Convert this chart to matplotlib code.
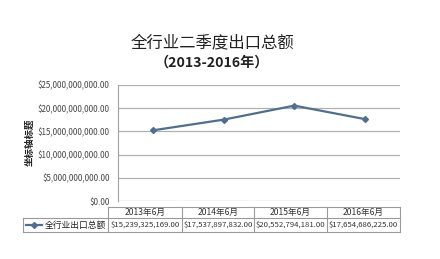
import matplotlib
matplotlib.use("Agg")
import matplotlib.pyplot as plt
from matplotlib.lines import Line2D
from matplotlib.ticker import FuncFormatter

plt.rcParams['font.family'] = ['Noto Sans CJK SC', 'DejaVu Sans']

categories = ["2013年6月", "2014年6月", "2015年6月", "2016年6月"]
values = [15239325169.00, 17537897832.00, 20552794181.00, 17654686225.00]
series_name = "全行业出口总额"
title = "全行业二季度出口总额"
subtitle = "（2013-2016年）"
ylabel = "坐标轴标题"

W, H = 440, 259
fig = plt.figure(figsize=(W / 100, H / 100), dpi=100)


def fx(px):
    return px / W


def fy(py):
    return 1 - py / H


ax = fig.add_axes([fx(118), fy(201), fx(400) - fx(118), fy(85) - fy(201)])
line_color = "#4f6f8f"
x = list(range(len(categories)))
ax.plot(x, values, color=line_color, lw=1.6, marker="D", ms=3,
        mec=line_color, mfc=line_color)
ax.set_xlim(-0.5, len(categories) - 0.5)
ax.set_ylim(0, 25e9)
ax.set_yticks([i * 5e9 for i in range(6)])
ax.yaxis.set_major_formatter(FuncFormatter(lambda v, p: f"${v:,.2f}"))
ax.tick_params(axis="y", length=0, labelsize=5.8, colors="#444444", pad=6)
ax.set_xticks([])
ax.grid(axis="y", color="#b0b0b0", lw=0.9)
for s in ["top", "right", "bottom"]:
    ax.spines[s].set_visible(False)
ax.spines["left"].set_color("#a0a0a0")
ax.set_axisbelow(True)

fig.text(fx(30), fy(142), ylabel, rotation=90, ha="center", va="center",
         fontsize=6.8, fontweight="bold", color="#222222")
fig.text(fx(212), fy(43), title, ha="center", va="center",
         fontsize=11.8, color="#222222")
fig.text(fx(212), fy(63), subtitle, ha="center", va="center",
         fontsize=10.2, fontweight="bold", color="#222222")

# data table below the chart
cols = [108, 182, 254, 327, 400]
y_top, y_mid, y_bot = 207, 218, 232
left = 23
gc = "#9a9a9a"


def hline(y, x0, x1):
    fig.add_artist(Line2D([fx(x0), fx(x1)], [fy(y), fy(y)], color=gc, lw=0.8))


def vline(xp, y0, y1):
    fig.add_artist(Line2D([fx(xp), fx(xp)], [fy(y0), fy(y1)], color=gc, lw=0.8))


hline(y_top, cols[0], cols[-1])
hline(y_mid, left, cols[-1])
hline(y_bot, left, cols[-1])
vline(left, y_mid, y_bot)
for c in cols:
    vline(c, y_top, y_bot)

for i, (cat, v) in enumerate(zip(categories, values)):
    cx = (cols[i] + cols[i + 1]) / 2
    fig.text(fx(cx), fy((y_top + y_mid) / 2), cat, ha="center", va="center",
             fontsize=6.2, color="#333333")
    fig.text(fx(cx), fy((y_mid + y_bot) / 2), f"${v:,.2f}", ha="center",
             va="center", fontsize=5.6, color="#333333")

ym = (y_mid + y_bot) / 2
fig.add_artist(Line2D([fx(26), fx(42)], [fy(ym), fy(ym)], color=line_color, lw=1.6))
fig.add_artist(Line2D([fx(34)], [fy(ym)], color=line_color, marker="D", ms=3))
fig.text(fx(45), fy(ym), series_name, ha="left", va="center",
         fontsize=6.3, color="#222222")

fig.savefig("out.png", dpi=100)
